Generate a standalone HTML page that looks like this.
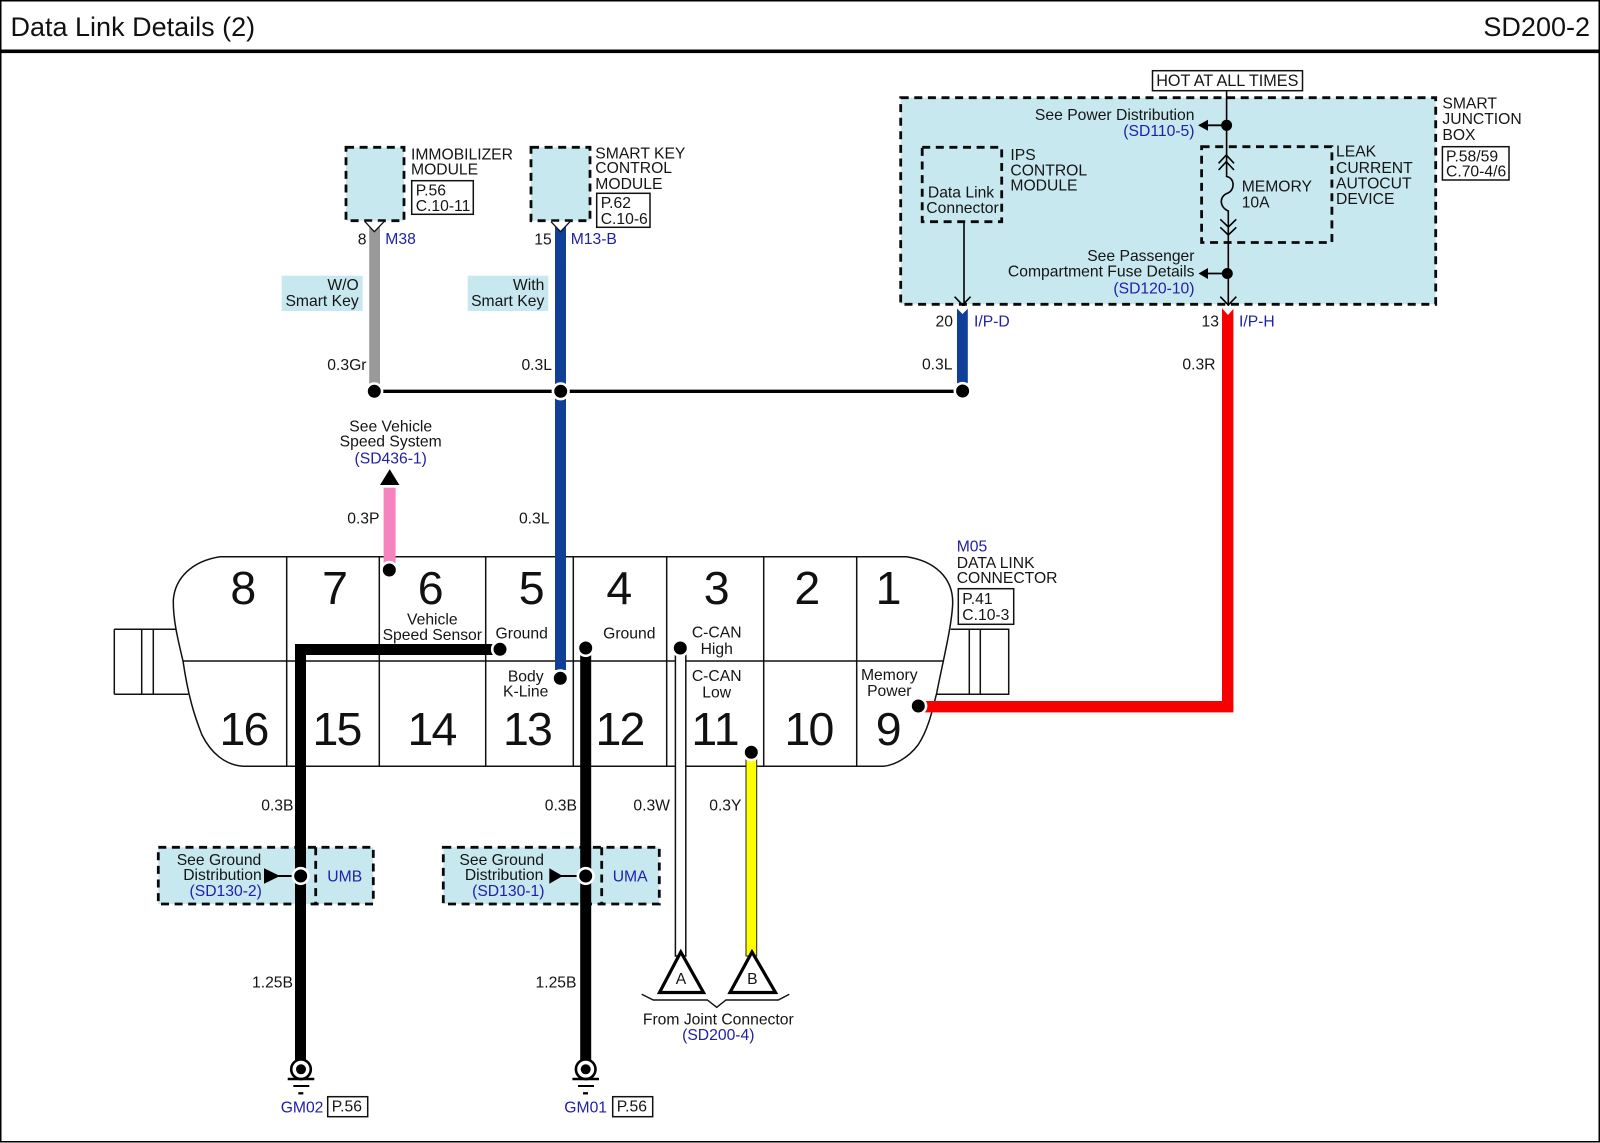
<!DOCTYPE html>
<html><head><meta charset="utf-8"><style>
html,body{margin:0;padding:0;background:#fff}
svg{display:block}
text{font-family:"Liberation Sans",sans-serif;font-size:15.7px;fill:#151515}
.b{fill:#2020a8}.e{text-anchor:end}.m{text-anchor:middle}
.n{font-size:46.5px;text-anchor:middle;fill:#111}
.n2{font-size:46.5px;text-anchor:middle;fill:#111;letter-spacing:-1.8px}
.t{font-size:27px;fill:#111}
.d{fill:#c8e8f0;stroke:#0a0a0a;stroke-width:2.8;stroke-dasharray:8 5.6}
.dn{fill:none;stroke:#0a0a0a;stroke-width:2.8;stroke-dasharray:8 5.6}
.r{fill:#fff;stroke:#111;stroke-width:1.5}
.rc{fill:none;stroke:#111;stroke-width:1.5}
.l{fill:none;stroke:#111;stroke-width:1.4}
.th{fill:none;stroke:#000;stroke-width:1.6}
.dot{fill:#000;stroke:#fff;stroke-width:2.6}
.dot2{fill:#000}
</style></head><body>
<svg xmlns="http://www.w3.org/2000/svg" width="1600" height="1143" viewBox="0 0 1600 1143">
<rect width="1600" height="1143" fill="#fff"/>
<rect x="0.75" y="0.75" width="1598.5" height="1141" fill="none" stroke="#000" stroke-width="1.5"/>
<rect x="0" y="49.5" width="1600" height="3.6" fill="#000"/>
<text class="t" x="10.5" y="36">Data Link Details (2)</text>
<text class="t e" x="1590" y="36">SD200-2</text>

<!-- Fill regions -->
<rect class="d" x="900.7" y="97.7" width="535" height="206.6"/>
<rect class="d" x="922.2" y="147.3" width="79.5" height="74.4"/>
<rect class="dn" x="1201.6" y="146.7" width="130.3" height="95.8"/>
<rect class="d" x="346" y="147.3" width="58" height="73.4"/>
<rect class="d" x="531" y="147.3" width="59" height="73.4"/>
<rect x="281.7" y="275.7" width="81" height="35.3" fill="#c8e8f0"/>
<rect x="467.7" y="275.7" width="80.6" height="35.3" fill="#c8e8f0"/>

<!-- Top module text -->
<text x="411" y="159.3">IMMOBILIZER</text><text x="411" y="174.5">MODULE</text>
<rect class="r" x="411.7" y="180.7" width="61.6" height="33.6"/>
<text x="415.7" y="195.5">P.56</text><text x="415.7" y="211">C.10-11</text>
<text x="595.3" y="158.3">SMART KEY</text><text x="595.3" y="173">CONTROL</text><text x="595.3" y="189">MODULE</text>
<rect class="r" x="596.7" y="193.3" width="53.3" height="34"/>
<text x="600.7" y="208">P.62</text><text x="600.7" y="224">C.10-6</text>
<text class="e" x="358.7" y="290">W/O</text><text class="e" x="358.7" y="306">Smart Key</text>
<text class="e" x="544.3" y="290">With</text><text class="e" x="544.3" y="306">Smart Key</text>
<text class="e" x="366.5" y="244.5">8</text><text class="b" x="385.3" y="244">M38</text>
<text class="e" x="551.7" y="244.5">15</text><text class="b" x="570.7" y="244">M13-B</text>
<text class="e" x="366.5" y="370">0.3Gr</text><text class="e" x="552" y="370">0.3L</text>
<text class="m" x="390.7" y="431.7">See Vehicle</text><text class="m" x="390.7" y="446.7">Speed System</text><text class="b m" x="390.7" y="463.3">(SD436-1)</text>
<text class="e" x="379.5" y="523.5">0.3P</text><text class="e" x="549.5" y="523.5">0.3L</text>

<!-- Data link connector outline -->
<path class="rc" d="M114.3 629.3H175.5M114.3 694.3H188.3M114.3 629.3V694.3M141.7 629.3V694.3M153.3 629.3V694.3"/>
<path class="rc" d="M950.7 629.3H1008.7V694.3H936.7M969.3 629.3V694.3M980.3 629.3V694.3"/>
<path class="rc" fill="#fff" d="M220 556.7H906.7C935 561 953 578 952.7 603C952 625 943 661 936.7 693C932 712 928 730 918 745C908 758 895 765 883.3 766.3H243.3C225 765 211 753 202 735C194 715 188 695 183 661C178 640 173 620 173.3 600C175 578 192 561 220 556.7Z"/>
<path class="rc" d="M183 661H943.3M286.7 556.7V766.3M379.3 556.7V766.3M485.7 556.7V766.3M573.3 556.7V766.3M666.7 556.7V766.3M763.7 556.7V766.3M856.7 556.7V766.3"/>
<text class="n" x="243.3" y="604">8</text><text class="n" x="335" y="604">7</text><text class="n" x="430.7" y="604">6</text><text class="n" x="531.7" y="604">5</text>
<text class="n" x="619.3" y="604">4</text><text class="n" x="716.7" y="604">3</text><text class="n" x="807.3" y="604">2</text><text class="n" x="888.5" y="604">1</text>
<text class="n2" x="243.5" y="745">16</text><text class="n2" x="336.5" y="745">15</text><text class="n2" x="431.5" y="745">14</text><text class="n2" x="527" y="745">13</text>
<text class="n2" x="619.5" y="745">12</text><text class="n" x="715.5" y="745">11</text><text class="n2" x="808.5" y="745">10</text><text class="n" x="888.7" y="745">9</text>
<text class="m" x="432.3" y="624.3">Vehicle</text><text class="m" x="432.3" y="640">Speed Sensor</text>
<text class="m" x="521.7" y="638.3">Ground</text><text class="m" x="629.3" y="638.3">Ground</text>
<text class="m" x="525.7" y="681.7">Body</text><text class="m" x="525.7" y="696.7">K-Line</text>
<text class="m" x="716.7" y="637.7">C-CAN</text><text class="m" x="716.7" y="654">High</text>
<text class="m" x="716.7" y="681">C-CAN</text><text class="m" x="716.7" y="697.3">Low</text>
<text class="m" x="889.3" y="680">Memory</text><text class="m" x="889.3" y="696">Power</text>
<text class="b" x="956.7" y="551.7">M05</text><text x="956.7" y="568">DATA LINK</text><text x="956.7" y="583">CONNECTOR</text>
<rect class="r" x="958.3" y="588.7" width="55.4" height="35.6"/>
<text x="962.3" y="604">P.41</text><text x="962.3" y="620">C.10-3</text>

<!-- Ground / UM boxes -->
<rect x="158.3" y="847.3" width="215" height="56.7" fill="#c8e8f0"/>
<rect x="443.3" y="847.3" width="216" height="56.7" fill="#c8e8f0"/>
<rect class="dn" x="158.3" y="847.3" width="215" height="56.7"/>
<rect class="dn" x="443.3" y="847.3" width="216" height="56.7"/>
<path class="dn" d="M315.7 847.3V904M601.7 847.3V904"/>

<!-- Thick wires -->
<rect x="369.2" y="226" width="10.8" height="158" fill="#999"/>
<rect x="555" y="226" width="11" height="158" fill="#0f3f96"/>
<rect x="555" y="390" width="11" height="280" fill="#0f3f96"/>
<rect x="957" y="306" width="10.8" height="77.2" fill="#0f3f96"/>
<rect x="383.6" y="487.7" width="12" height="75.3" fill="#f683bd"/>
<rect x="295" y="644" width="198" height="11" fill="#000"/>
<rect x="295" y="644" width="11" height="416" fill="#000"/>
<rect x="580.2" y="650" width="11" height="410" fill="#000"/>
<rect x="675.4" y="650" width="10.4" height="306" fill="#fff" stroke="#111" stroke-width="1.5"/>
<rect x="746" y="756" width="10.7" height="200" fill="#ff0" stroke="#222" stroke-width="1"/>
<path d="M1227.7 306V706.7H920" fill="none" stroke="#f60000" stroke-width="11.4"/>
<path d="M374.5 391.3H962.6" fill="none" stroke="#000" stroke-width="3.3"/>

<!-- Smart junction wires -->
<path class="th" d="M1226.6 90.7V176.5C1235 178 1235 190 1228 193C1219 196 1219 207 1228.3 211V306"/>
<path class="th" d="M964 221.7V306"/>
<path class="th" d="M1218.6 163.3L1226.3 155L1234 163.3M1218.6 170L1226.3 161.7L1234 170"/>
<path class="th" d="M1220.3 219.3L1228.3 227L1236.3 219.3M1220.3 227.3L1228.3 235L1236.3 227.3"/>
<path class="th" d="M954.6 296.7L962.6 305L970.6 296.7M1220.3 296.7L1228.3 305L1236.3 296.7"/>
<path d="M954.5 306H970.5L962.5 314Z" fill="#fff"/>
<path d="M1220 306H1236L1228 315Z" fill="#fff"/>

<!-- Top connectors -->
<path d="M365 221.7L374.3 231.7L384 221.7" fill="#fff" stroke="#111" stroke-width="1.3"/>
<path d="M551 221.7L560.5 231.7L570 221.7" fill="#fff" stroke="#111" stroke-width="1.3"/>

<!-- Arrows -->
<path d="M389.7 469.3L380 485H399.4Z" fill="#000"/>
<path d="M1198 125.3L1208 119.8V130.8Z" fill="#000"/><path d="M1206 125.3H1226" stroke="#000" stroke-width="1.8"/>
<path d="M1198.5 273.5L1208 268V279Z" fill="#000"/><path d="M1206 273.5H1227" stroke="#000" stroke-width="1.8"/>
<path d="M264 868.3L280 876L264 883.7Z" fill="#000"/><path d="M278 876H296" stroke="#000" stroke-width="2"/>
<path d="M549.3 868.3L562.7 876L549.3 883.7Z" fill="#000"/><path d="M561 876H581" stroke="#000" stroke-width="2"/>

<!-- Dots -->
<circle class="dot" cx="374.3" cy="391.3" r="7.8"/>
<circle class="dot" cx="560.7" cy="391.3" r="7.8"/>
<circle class="dot" cx="962.6" cy="391" r="7.8"/>
<circle class="dot" cx="389.3" cy="570" r="7.8"/>
<circle class="dot" cx="500" cy="649.3" r="7.8"/>
<circle class="dot" cx="585.7" cy="648" r="7.8"/>
<circle class="dot" cx="560.3" cy="678.3" r="7.8"/>
<circle class="dot" cx="680.3" cy="648" r="7.8"/>
<circle class="dot" cx="751.3" cy="752.3" r="7.8"/>
<circle class="dot" cx="918.3" cy="706" r="7.8"/>
<circle class="dot" cx="300.7" cy="876" r="7.8"/>
<circle class="dot" cx="585.7" cy="876" r="7.8"/>
<circle class="dot2" cx="1226.6" cy="125.3" r="5.5"/>
<circle class="dot2" cx="1227.3" cy="273.5" r="5.5"/>

<!-- Junction box text -->
<rect class="r" x="1152.5" y="70.7" width="150" height="20"/>
<text class="m" x="1227.3" y="86" style="font-size:16.2px">HOT AT ALL TIMES</text>
<text class="e" x="1194.5" y="120">See Power Distribution</text><text class="b e" x="1194.5" y="136">(SD110-5)</text>
<text x="1010.4" y="160">IPS</text><text x="1010.4" y="175.5">CONTROL</text><text x="1010.4" y="190.7">MODULE</text>
<text class="m" x="961" y="197.3">Data Link</text><text class="m" x="962.5" y="213">Connector</text>
<text x="1336" y="156.7">LEAK</text><text x="1336" y="173">CURRENT</text><text x="1336" y="188.5">AUTOCUT</text><text x="1336" y="204">DEVICE</text>
<text x="1241.7" y="191.7">MEMORY</text><text x="1241.7" y="207.7">10A</text>
<text class="e" x="1194.5" y="261">See Passenger</text><text class="e" x="1194.5" y="276.7">Compartment Fuse Details</text><text class="b e" x="1194.5" y="293.3">(SD120-10)</text>
<text x="1442.4" y="108.3">SMART</text><text x="1442.4" y="124">JUNCTION</text><text x="1442.4" y="140">BOX</text>
<rect class="r" x="1442.4" y="146.7" width="66.6" height="33.3"/>
<text x="1446" y="161.7">P.58/59</text><text x="1446" y="176.7">C.70-4/6</text>
<text class="e" x="953" y="326.7">20</text><text class="b" x="974" y="326.7">I/P-D</text>
<text class="e" x="1219" y="326.7">13</text><text class="b" x="1239" y="326.7">I/P-H</text>
<text class="e" x="952.5" y="369.5">0.3L</text><text class="e" x="1215.5" y="369.5">0.3R</text>

<!-- Lower labels -->
<text class="e" x="293.5" y="810.7">0.3B</text><text class="e" x="577" y="810.7">0.3B</text>
<text class="e" x="670" y="810.7">0.3W</text><text class="e" x="741.5" y="810.7">0.3Y</text>
<text class="m" x="219" y="865">See Ground</text><text class="e" x="261.7" y="880">Distribution</text><text class="b m" x="225.7" y="896">(SD130-2)</text>
<text class="b" x="327.3" y="881.7">UMB</text>
<text class="m" x="501.7" y="865">See Ground</text><text class="e" x="543.3" y="880">Distribution</text><text class="b m" x="508.3" y="896">(SD130-1)</text>
<text class="b" x="612.7" y="881.7">UMA</text>
<text class="e" x="293" y="987.7">1.25B</text><text class="e" x="576.5" y="987.7">1.25B</text>

<!-- Triangles -->
<path d="M680.8 952L659.5 992.5H703.5Z" fill="#fff" stroke="#000" stroke-width="3.2"/>
<path d="M752 952L730 992.5H775.5Z" fill="#fff" stroke="#000" stroke-width="3.2"/>
<text class="m" x="681" y="984">A</text><text class="m" x="752.3" y="984">B</text>
<path class="l" d="M641.7 994.3L653.3 1000H707.3L716.7 1007.3L726 1000H778.3L789.3 994.3"/>
<text class="m" x="718.3" y="1024.3">From Joint Connector</text><text class="b m" x="718.3" y="1040">(SD200-4)</text>

<!-- Grounds -->
<circle cx="301" cy="1069.3" r="9.8" fill="#fff" stroke="#000" stroke-width="2.6"/>
<circle cx="301" cy="1069.3" r="5" fill="#000"/>
<path d="M287.7 1079H314.3" stroke="#000" stroke-width="2.4"/>
<path d="M293.3 1086H309.3" stroke="#000" stroke-width="2"/>
<path d="M298.3 1093.3H303.3" stroke="#000" stroke-width="2.3"/>
<circle cx="585.7" cy="1069.3" r="9.8" fill="#fff" stroke="#000" stroke-width="2.6"/>
<circle cx="585.7" cy="1069.3" r="5" fill="#000"/>
<path d="M572.4 1079H599" stroke="#000" stroke-width="2.4"/>
<path d="M578 1086H594" stroke="#000" stroke-width="2"/>
<path d="M583 1093.3H588" stroke="#000" stroke-width="2.3"/>
<text class="b" x="280.7" y="1112.7">GM02</text>
<rect class="r" x="327.7" y="1096.7" width="40" height="20"/>
<text x="331.7" y="1111.7">P.56</text>
<text class="b" x="564.3" y="1112.7">GM01</text>
<rect class="r" x="612.7" y="1096.7" width="40" height="20"/>
<text x="616.7" y="1111.7">P.56</text>
</svg>
</body></html>
